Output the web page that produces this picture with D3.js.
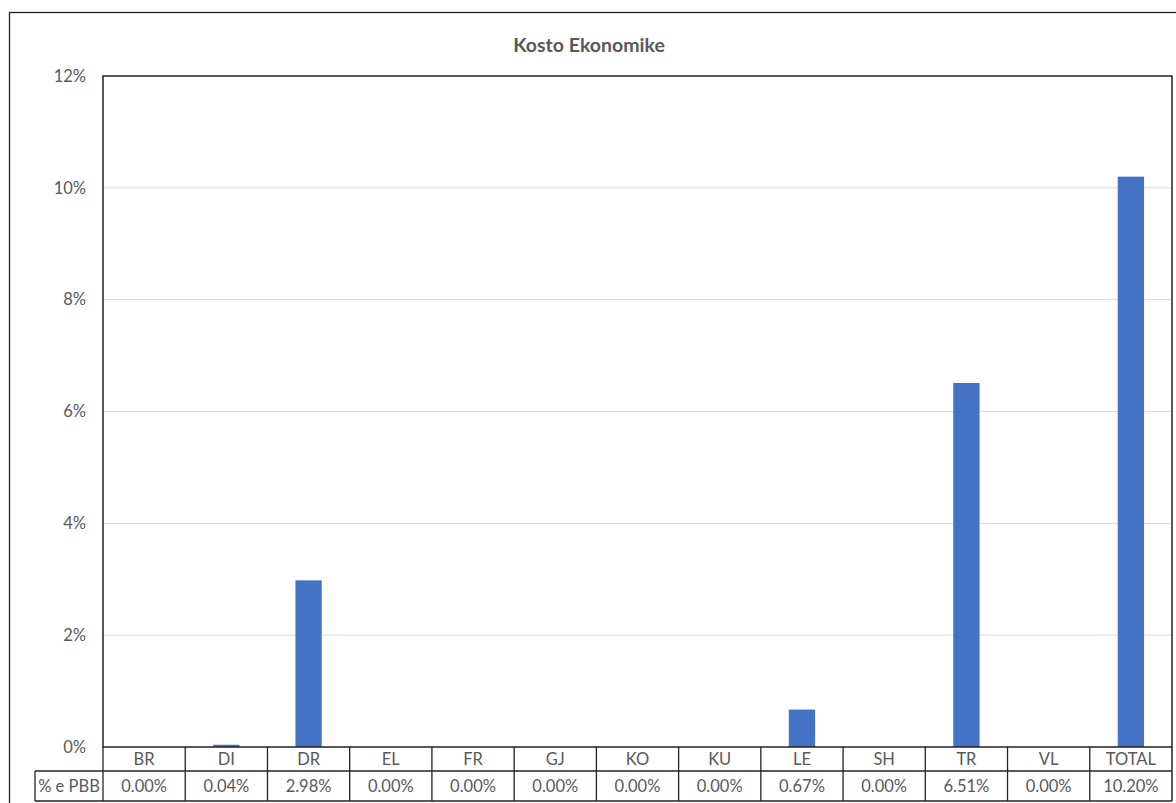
<!DOCTYPE html>
<html>
<head>
<meta charset="utf-8">
<script src="https://cdn.jsdelivr.net/npm/d3@7/dist/d3.min.js"></script>
<style>
  html, body { margin: 0; padding: 0; background: #fff; }
  svg { display: block; }
  text { font-family: Lato, "Open Sans", "Liberation Sans", sans-serif; fill: #595959; }
</style>
</head>
<body>
<svg id="chart" width="1176" height="803"></svg>
<script>
// Economic cost by region, as share of GDP (%)
const categories = ["BR", "DI", "DR", "EL", "FR", "GJ", "KO", "KU", "LE", "SH", "TR", "VL", "TOTAL"];
const values = [0.00, 0.04, 2.98, 0.00, 0.00, 0.00, 0.00, 0.00, 0.67, 0.00, 6.51, 0.00, 10.20];
const seriesName = "% e PBB";
const yTicks = [0, 2, 4, 6, 8, 10, 12];
const title = "Kosto Ekonomike";

const svg = d3.select("#chart");
const plot = { left: 103, right: 1172, top: 76, bottom: 747 };
const rowH1 = 24, rowH2 = 30, labelColLeft = 35;
const fs = 16.5;

// outer chart frame (runs past the viewport on the right and bottom)
svg.append("rect")
  .attr("x", 9.5).attr("y", 12.5)
  .attr("width", 1200).attr("height", 820)
  .attr("fill", "#fff").attr("stroke", "#222").attr("stroke-width", 1.3);

svg.append("text")
  .attr("x", 589).attr("y", 52)
  .attr("text-anchor", "middle")
  .attr("font-size", 19.5).attr("font-weight", "bold")
  .text(title);

const x = d3.scaleBand().domain(categories).range([plot.left, plot.right]).paddingInner(0).paddingOuter(0);
const y = d3.scaleLinear().domain([0, 12]).range([plot.bottom, plot.top]);

// gridlines
svg.append("g").selectAll("line").data(yTicks.filter(t => t > 0 && t < 12)).join("line")
  .attr("x1", plot.left).attr("x2", plot.right)
  .attr("y1", d => y(d)).attr("y2", d => y(d))
  .attr("stroke", "#d9d9d9").attr("stroke-width", 1);

// y axis labels
const yAxis = d3.axisLeft(y).tickValues(yTicks).tickFormat(d => d + "%").tickSize(0).tickPadding(17);
const ya = svg.append("g").attr("transform", `translate(${plot.left},0)`).call(yAxis);
ya.select(".domain").remove();
ya.selectAll("text").attr("font-size", fs).attr("fill", "#595959")
  .style("font-family", "Lato, 'Open Sans', sans-serif");

// bars
const barW = x.bandwidth() * 0.32;
svg.append("g").selectAll("rect").data(values).join("rect")
  .attr("x", (d, i) => x(categories[i]) + (x.bandwidth() - barW) / 2)
  .attr("width", barW)
  .attr("y", d => y(d))
  .attr("height", d => y(0) - y(d))
  .attr("fill", "#4472c4");

// plot area border
svg.append("rect")
  .attr("x", plot.left).attr("y", plot.top)
  .attr("width", plot.right - plot.left).attr("height", plot.bottom - plot.top)
  .attr("fill", "none").attr("stroke", "#222").attr("stroke-width", 1.5);

// data table below the axis
const tbl = svg.append("g");
const r1 = plot.bottom, r2 = plot.bottom + rowH1, r3 = plot.bottom + rowH1 + rowH2;
const lineC = "#222";
tbl.append("line").attr("x1", labelColLeft).attr("x2", plot.right).attr("y1", r2).attr("y2", r2)
  .attr("stroke", lineC).attr("stroke-width", 1.3);
tbl.append("line").attr("x1", labelColLeft).attr("x2", plot.right).attr("y1", r3).attr("y2", r3)
  .attr("stroke", lineC).attr("stroke-width", 1.3);
tbl.append("line").attr("x1", labelColLeft).attr("x2", labelColLeft).attr("y1", r2).attr("y2", r3)
  .attr("stroke", lineC).attr("stroke-width", 1.3);
tbl.append("line").attr("x1", plot.right).attr("x2", plot.right).attr("y1", r1).attr("y2", r3)
  .attr("stroke", lineC).attr("stroke-width", 1.5);
tbl.selectAll("line.sep").data(categories).join("line").attr("class", "sep")
  .attr("x1", d => x(d)).attr("x2", d => x(d))
  .attr("y1", r1).attr("y2", r3)
  .attr("stroke", lineC).attr("stroke-width", 1.3);

tbl.selectAll("text.cat").data(categories).join("text").attr("class", "cat")
  .attr("x", d => x(d) + x.bandwidth() / 2).attr("y", r1 + 18)
  .attr("text-anchor", "middle").attr("font-size", fs)
  .text(d => d);

tbl.selectAll("text.val").data(values).join("text").attr("class", "val")
  .attr("x", (d, i) => x(categories[i]) + x.bandwidth() / 2).attr("y", r2 + 21)
  .attr("text-anchor", "middle").attr("font-size", fs)
  .text(d => d.toFixed(2) + "%");

tbl.append("text")
  .attr("x", (labelColLeft + plot.left) / 2).attr("y", r2 + 21)
  .attr("text-anchor", "middle").attr("font-size", fs)
  .text(seriesName);
</script>
</body>
</html>
